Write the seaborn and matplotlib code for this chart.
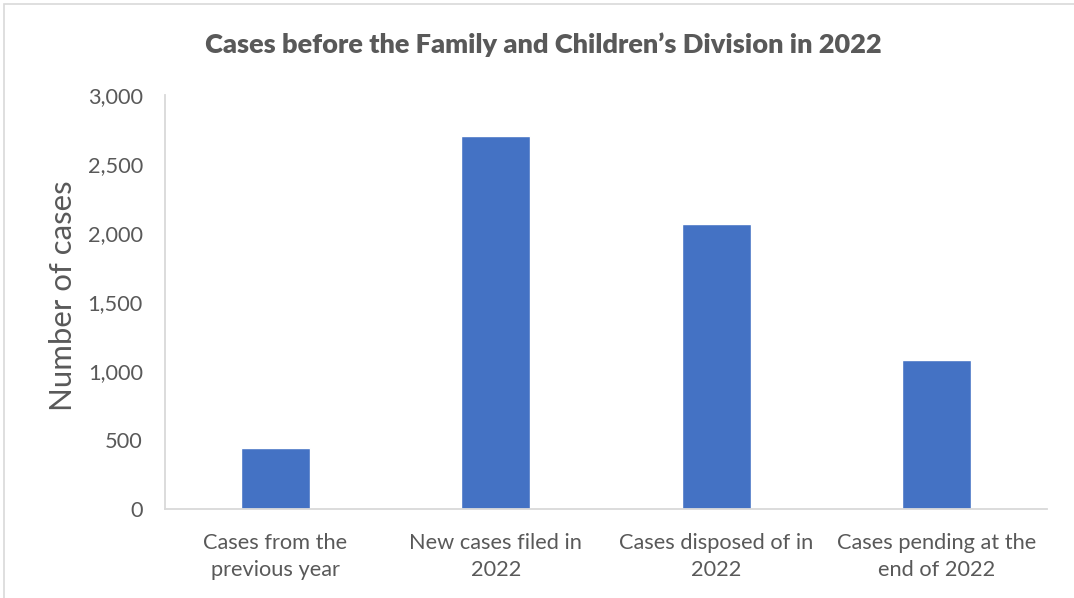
import matplotlib
matplotlib.use("Agg")
import matplotlib.pyplot as plt
import seaborn as sns
import pandas as pd
from matplotlib.patches import Rectangle

categories = ["Cases from the\nprevious year", "New cases filed in\n2022",
              "Cases disposed of in\n2022", "Cases pending at the\nend of 2022"]
values = [445, 2700, 2065, 1080]
yticks = [0, 500, 1000, 1500, 2000, 2500, 3000]
ytick_labels = ["0", "500", "1,000", "1,500", "2,000", "2,500", "3,000"]

sns.set_theme(style="white")
plt.rcParams['font.family'] = ['Lato', 'DejaVu Sans']

grey = "#595959"
df = pd.DataFrame({"cat": categories, "val": values})

fig = plt.figure(figsize=(10.74, 5.98), dpi=100)
ax = fig.add_axes([165/1074, 1-509/598, (1047-165)/1074, (509-95)/598])
sns.barplot(data=df, x="cat", y="val", color="#4472C4", width=0.313, ax=ax,
            saturation=1)
ax.set_ylim(0, 3000)
ax.set_xlim(-0.5, 3.5)
ax.set_yticks(yticks)
ax.set_yticklabels(ytick_labels)
ax.tick_params(axis='both', colors=grey, labelsize=15.7, length=0)
ax.tick_params(axis='y', pad=16)
ax.tick_params(axis='x', pad=17)
for lab in ax.get_xticklabels():
    lab.set_color(grey)
    lab.set_linespacing(1.45)
for lab in ax.get_yticklabels():
    lab.set_color(grey)
ax.set_xlabel("")
ax.set_ylabel("Number of cases", fontsize=22.4, color=grey)
ax.yaxis.set_label_coords(-0.1, 0.515)
for s in ["top", "right"]:
    ax.spines[s].set_visible(False)
for s in ["left", "bottom"]:
    ax.spines[s].set_color("#D9D9D9")
    ax.spines[s].set_linewidth(1.3)
fig.text(543/1074, 1-45/598, "Cases before the Family and Children\u2019s Division in 2022",
         ha="center", va="center", fontsize=19.5, fontweight="heavy", color=grey)
fig.patches.append(Rectangle((4/1074, -0.1), 1.2, 1-4/598+0.1, transform=fig.transFigure,
                             fill=False, edgecolor="#D9D9D9", linewidth=1.2))
fig.savefig("out.png", dpi=100)
